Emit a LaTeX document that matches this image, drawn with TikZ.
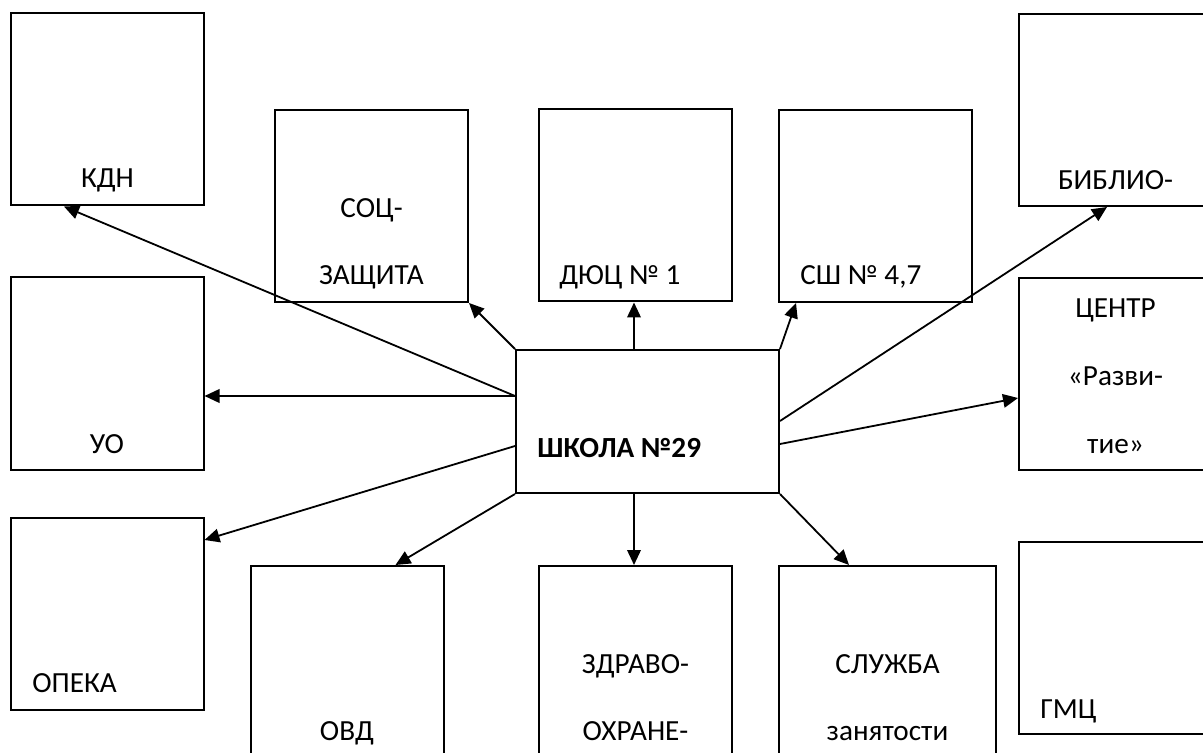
\documentclass[tikz,border=0pt]{standalone}
\usepackage{fontspec}
\setmainfont{Carlito}
\usetikzlibrary{arrows.meta,calc}
\begin{document}
\begin{tikzpicture}[x=0.5pt,y=-0.5pt,
  box/.style={draw, line width=1pt, rectangle, inner sep=0pt, minimum width=96.5pt, minimum height=96pt},
  lbl/.style={font=\fontsize{14.6pt}{17pt}\selectfont, inner sep=0pt, anchor=base},
  lbll/.style={lbl, anchor=base west},
  conn/.style={line width=0.9pt, -{Triangle[length=7.5pt,width=6.8pt]}}]
\useasboundingbox (0,0) rectangle (1203,753);
% boxes
\node[box] (kdn) at (107.5,109.5) {};
\node[box] (soc) at (371.5,206) {};
\node[box] (duc) at (635.5,205.5) {};
\node[box] (sh) at (875.5,206) {};
\node[box] (bib) at (1115.5,110) {};
\node[box] (cen) at (1115.5,374) {};
\node[box] (uo) at (107,373.5) {};
\node[box] (opeka) at (107,614) {};
\node[box] (ovd) at (347,662) {};
\node[box] (zdr) at (635.5,662) {};
\node[box, minimum width=108.5pt] (sl) at (887.5,662) {};
\node[box] (gmc) at (1115.5,638) {};
\node[box, minimum width=131.5pt, minimum height=71.5pt] (school) at (647.5,421.5) {};
% labels
\node[lbl] (tkdn) at (107.5,188) {КДН};
\node[lbl] (tsoc1) at (371.5,218) {СОЦ-};
\node[lbl] (tsoc2) at (371.5,285) {ЗАЩИТА};
\node[lbll] (tduc) at (559,285) {ДЮЦ № 1};
\node[lbll] (tsh) at (800,285) {СШ № 4,7};
\node[lbl] (tbib) at (1115.5,190) {БИБЛИО-};
\node[lbl] (tcen1) at (1115.5,318) {ЦЕНТР};
\node[lbl] (tcen2) at (1115.5,386) {«Разви-};
\node[lbl] (tcen3) at (1115.5,453) {тие»};
\node[lbl] (tuo) at (107,453) {УО};
\node[lbll, font=\fontsize{14.6pt}{17pt}\selectfont\bfseries] (tschool) at (537,457) {ШКОЛА №29};
\node[lbll] (topeka) at (32,692) {ОПЕКА};
\node[lbl] (tovd) at (347,740) {ОВД};
\node[lbl] (tzdr1) at (635.5,673) {ЗДРАВО-};
\node[lbl] (tzdr2) at (635.5,740) {ОХРАНЕ-};
\node[lbl] (tsl1) at (887.5,673) {СЛУЖБА};
\node[lbl] (tsl2) at (887.5,740) {занятости};
\node[lbll] (tgmc) at (1040,718) {ГМЦ};
% connectors
\coordinate (sW1) at ($(school.north west)+(0,47)$);
\coordinate (sW2) at ($(school.north west)+(0,97)$);
\coordinate (sN) at ($(school.north west)+(119,0)$);
\coordinate (sS) at ($(school.south west)+(119,0)$);
\coordinate (sE1) at ($(school.north east)+(0,72)$);
\coordinate (sE2) at ($(school.north east)+(0,95)$);
\draw[conn] (sW1) -- ($(kdn.south west)+(54,0)$);
\draw[conn] (sW1) -- (sW1 -| uo.east);
\draw[conn] (sW2) -- ($(opeka.north east)+(0,23)$);
\draw[conn] (school.south west) -- ($(ovd.north west)+(146,0)$);
\draw[conn] (sS) -- (sS |- zdr.north);
\draw[conn] (school.south east) -- ($(sl.north west)+(71,0)$);
\draw[conn] (school.north west) -- (soc.south east);
\draw[conn] (sN) -- (sN |- duc.south);
\draw[conn] (school.north east) -- ($(sh.south west)+(18,0)$);
\draw[conn] (sE1) -- ($(bib.south west)+(89,0)$);
\draw[conn] (sE2) -- ($(cen.north west)+(0,121)$);
\end{tikzpicture}
\end{document}
